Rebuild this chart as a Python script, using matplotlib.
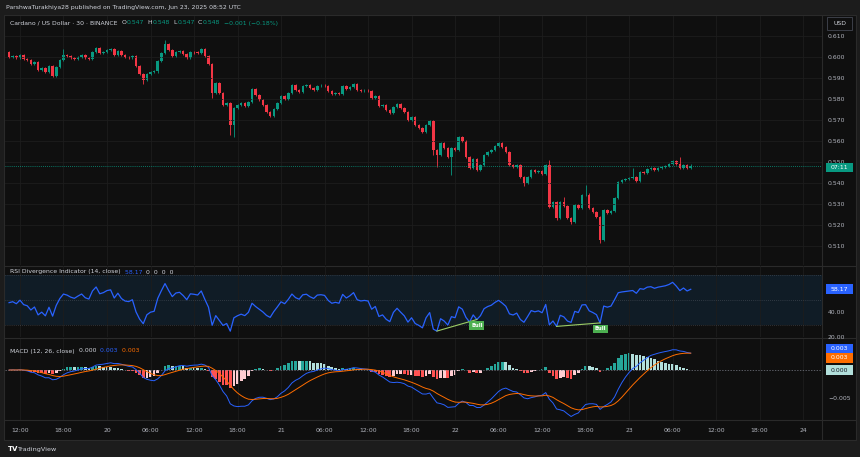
import numpy as np
import pandas as pd
import matplotlib
matplotlib.use("Agg")
import matplotlib.pyplot as plt
from matplotlib.patches import Rectangle

plt.rcParams['font.family'] = ['DejaVu Sans']

W, H = 860, 457

# ADA/USD 30 min closes, 19 Jun 10:30 -> 23 Jun 08:30
closes = [
    0.6000, 0.6004, 0.5995, 0.6009, 0.5990, 0.5985, 0.5966, 0.5976, 0.5938, 0.5947, 0.5928, 0.5957,
    0.5909, 0.5952, 0.5985, 0.6009, 0.6004, 0.5995, 0.5990, 0.6000, 0.6009, 0.5995, 0.5990, 0.6024,
    0.6043, 0.6019, 0.6024, 0.6033, 0.6036, 0.6009, 0.6028, 0.6009, 0.6000, 0.5998, 0.6004, 0.5957,
    0.5919, 0.5890, 0.5919, 0.5928, 0.5931, 0.5981, 0.6019, 0.6062, 0.6033, 0.6004, 0.6024, 0.6028,
    0.6014, 0.5995, 0.6024, 0.6022, 0.6019, 0.6038, 0.6004, 0.5966, 0.5828, 0.5876, 0.5828, 0.5771,
    0.5781, 0.5676, 0.5757, 0.5771, 0.5781, 0.5766, 0.5786, 0.5847, 0.5819, 0.5795, 0.5771, 0.5738,
    0.5719, 0.5752, 0.5781, 0.5814, 0.5800, 0.5828, 0.5866, 0.5843, 0.5833, 0.5862, 0.5866, 0.5852,
    0.5843, 0.5862, 0.5864, 0.5861, 0.5838, 0.5824, 0.5828, 0.5824, 0.5862, 0.5847, 0.5857, 0.5871,
    0.5843, 0.5838, 0.5840, 0.5838, 0.5805, 0.5814, 0.5766, 0.5771, 0.5747, 0.5733, 0.5762, 0.5776,
    0.5757, 0.5738, 0.5700, 0.5714, 0.5676, 0.5662, 0.5643, 0.5676, 0.5695, 0.5557, 0.5533, 0.5590,
    0.5567, 0.5524, 0.5567, 0.5557, 0.5619, 0.5600, 0.5524, 0.5471, 0.5514, 0.5462, 0.5486, 0.5533,
    0.5548, 0.5557, 0.5576, 0.5590, 0.5571, 0.5548, 0.5486, 0.5476, 0.5486, 0.5429, 0.5400, 0.5429,
    0.5462, 0.5452, 0.5457, 0.5443, 0.5486, 0.5286, 0.5310, 0.5233, 0.5310, 0.5290, 0.5233, 0.5214,
    0.5295, 0.5281, 0.5343, 0.5345, 0.5281, 0.5262, 0.5238, 0.5129, 0.5271, 0.5257, 0.5267, 0.5329,
    0.5405, 0.5414, 0.5419, 0.5424, 0.5429, 0.5409, 0.5452, 0.5448, 0.5467, 0.5471, 0.5462, 0.5471,
    0.5476, 0.5481, 0.5490, 0.5505, 0.5490, 0.5471, 0.5486, 0.5474, 0.5483,
]
first_open = 0.6024
wick = 0.0006
big_highs = {15: 0.6038, 43: 0.6081, 149: 0.5509, 153: 0.5333, 159: 0.5390, 172: 0.5471, 185: 0.5524}
big_lows = {37: 0.5871, 56: 0.5805, 61: 0.5628, 62: 0.5619, 117: 0.5533, 118: 0.5476, 122: 0.5438,
            142: 0.5386, 151: 0.5224, 155: 0.5205, 163: 0.5114}

time_labels = ["12:00", "18:00", "20", "06:00", "12:00", "18:00", "21", "06:00", "12:00", "18:00",
               "22", "06:00", "12:00", "18:00", "23", "06:00", "12:00", "18:00", "24"]
first_tick = 3          # candle index of 19 Jun 12:00
tick_step = 12          # 6 hours of 30 min candles
price_ticks = [0.51, 0.52, 0.53, 0.54, 0.55, 0.56, 0.57, 0.58, 0.59, 0.60, 0.61]
rsi_ticks = [20, 40]
macd_ticks = [-0.005]
bull_pairs = [(118, 129), (151, 163)]

UP, DOWN = '#089981', '#f23645'
TXT = '#b2b5be'
FS = 4.4

# ---- indicators
c = np.array(closes)
d = np.diff(c)
gain = np.clip(d, 0, None)
loss = np.clip(-d, 0, None)
ag, al = gain[:14].mean(), loss[:14].mean()
rsi = np.empty(len(c))
rsi[0] = 100 - 100 / (1 + ag / al)
for k in range(len(d)):
    ag = (ag * 13 + gain[k]) / 14
    al = (al * 13 + loss[k]) / 14
    rsi[k + 1] = 100 - 100 / (1 + ag / al)

s = pd.Series(closes)
macd = (s.ewm(span=12, adjust=False).mean() - s.ewm(span=26, adjust=False).mean()).values
sig = pd.Series(macd).ewm(span=9, adjust=False).mean().values
hist = macd - sig
hcol = []
for k, h in enumerate(hist):
    prev = hist[k - 1] if k > 0 else 0
    if h >= 0:
        hcol.append('#26a69a' if h > prev else '#b2dfdb')
    else:
        hcol.append('#ff5252' if h < prev else '#ffcdd2')

idx = np.arange(len(closes))
opens = np.array([first_open] + closes[:-1])
highs = np.maximum(opens, c) + wick
lows = np.minimum(opens, c) - wick
for k, v in big_highs.items():
    highs[k] = v
for k, v in big_lows.items():
    lows[k] = v
ccol = [UP if c[k] >= opens[k] else DOWN for k in idx]


def fmt3(v):
    v = round(float(v), 3) + 0.0
    return f"{v:.3f}".replace('-', '\u2212')


# ---- figure
fig = plt.figure(figsize=(W / 100, H / 100), dpi=100, facecolor='#1c1c1c')


def px(x0, y0, x1, y1):
    return [x0 / W, 1 - y1 / H, (x1 - x0) / W, (y1 - y0) / H]


bg = fig.add_axes([0, 0, 1, 1], zorder=-10)
bg.set_xlim(0, W)
bg.set_ylim(H, 0)
bg.axis('off')
bg.add_patch(Rectangle((4, 15), 852, 425, fc='#0f0f0f', ec='#2a2a2a', lw=0.8))
for yy in (265.5, 338, 420):
    bg.plot([4, 856], [yy, yy], color='#2a2a2a', lw=0.8)
bg.plot([822, 822], [15, 440], color='#2a2a2a', lw=0.8)

xlim = (-1.13, 224.2)
ticks = [first_tick + tick_step * k for k in range(len(time_labels))]

ax_p = fig.add_axes(px(5, 16, 822, 265))
ax_r = fig.add_axes(px(5, 266, 822, 337))
ax_m = fig.add_axes(px(5, 339, 822, 420))
for ax in (ax_p, ax_r, ax_m):
    ax.set_facecolor('none')
    ax.set_xlim(*xlim)
    for sp in ax.spines.values():
        sp.set_visible(False)
    ax.set_xticks(ticks)
    ax.grid(axis='x', color='#1d1d1d', lw=0.6)
    ax.yaxis.tick_right()
    ax.tick_params(length=0, labelsize=FS, labelcolor=TXT, pad=4.3)
ax_p.set_xticklabels([])
ax_r.set_xticklabels([])
ax_m.set_xticklabels(time_labels)
ax_m.tick_params(axis='x', pad=5.8)

# price panel
ax_p.set_ylim(0.5010, 0.6195)
ax_p.set_yticks(price_ticks)
ax_p.set_yticklabels([f"{v:.3f}" for v in price_ticks])
ax_p.grid(axis='y', color='#1d1d1d', lw=0.6)
ax_p.vlines(idx, lows, highs, color=ccol, lw=0.6)
body = np.maximum(np.abs(c - opens), 0.00015)
ax_p.bar(idx, body, bottom=np.minimum(c, opens), width=0.7, color=ccol, lw=0)
ax_p.axhline(closes[-1], color=UP, ls=(0, (1, 1.5)), lw=0.6)

# rsi panel
ax_r.set_ylim(20, 76.8)
ax_r.set_yticks(rsi_ticks)
ax_r.set_yticklabels([f"{v:.2f}" for v in rsi_ticks])
ax_r.axhspan(30, 70, color='#2196f3', alpha=0.1, lw=0)
for lvl in (70, 50, 30):
    ax_r.axhline(lvl, color='#787b86', ls=(0, (1, 2)), lw=0.5, alpha=0.6)
ax_r.plot(idx, rsi, color='#2962ff', lw=0.9)
for a, b in bull_pairs:
    ax_r.plot([a, b], [rsi[a], rsi[b]], color='#9ccc65', lw=0.8)
    ax_r.annotate('Bull', (b, rsi[b]), xytext=(0, -2.5), textcoords='offset points',
                  ha='center', va='top', fontsize=3.8, color='white', fontweight='bold',
                  bbox=dict(boxstyle='square,pad=0.35', fc='#4caf50', ec='none'))

# macd panel
ax_m.set_ylim(-0.00893, 0.00554)
ax_m.set_yticks(macd_ticks)
ax_m.set_yticklabels(["\u22120.005"])
ax_m.axhline(0, color='#787b86', ls=(0, (2, 2)), lw=0.5)
ax_m.bar(idx, hist, width=0.75, color=hcol, lw=0)
ax_m.plot(idx, macd, color='#2962ff', lw=0.7)
ax_m.plot(idx, sig, color='#ff6d00', lw=0.7)

# ---- overlay: texts and value labels
ov = fig.add_axes([0, 0, 1, 1], zorder=20)
ov.set_xlim(0, W)
ov.set_ylim(H, 0)
ov.axis('off')
ov.set_facecolor('none')
rend = fig.canvas.get_renderer()


def seq(x, y, parts, size=FS):
    for txt, col in parts:
        t = ov.text(x, y, txt, color=col, fontsize=size, ha='left', va='center')
        x += t.get_window_extent(rend).width


def ypix(ax, v):
    return H - ax.transData.transform((0, v))[1]


def value_label(y, text, fc, tc, dy=0.0):
    ov.add_patch(Rectangle((825.5, y - 4.8 + dy), 27, 9.6, fc=fc, ec='none'))
    ov.text(839, y + dy, text, color=tc, fontsize=FS, ha='center', va='center')


GRY = '#d1d4dc'
ov.text(6, 7.5, "ParshwaTurakhiya28 published on TradingView.com, Jun 23, 2025 08:52 UTC",
        color=GRY, fontsize=FS, ha='left', va='center')
seq(10, 23, [("Cardano / US Dollar \u00b7 30 \u00b7 BINANCE", GRY), ("  O", GRY),
             ("0.547", UP), ("  H", GRY), ("0.548", UP), ("  L", GRY), ("0.547", UP),
             ("  C", GRY), ("0.548", UP), ("  \u22120.001 (\u22120.18%)", UP)])
seq(10, 272, [("RSI Divergence Indicator (14, close)", GRY), ("  " + f"{rsi[-1]:.2f}", '#2962ff'),
              ("  0  0  0  0", GRY)])
seq(10, 351, [("MACD (12, 26, close)", GRY), ("  " + fmt3(hist[-1]), GRY),
              ("  " + fmt3(macd[-1]), '#2962ff'), ("  " + fmt3(sig[-1]), '#ff6d00')])

ov.add_patch(Rectangle((827, 17), 25, 13, fc='#0f0f0f', ec='#434651', lw=0.6))
ov.text(839.5, 23.5, "USD", color=GRY, fontsize=FS, ha='center', va='center')

# countdown box sits just under the 0.550 scale label, which it partly hides
value_label(ypix(ax_p, closes[-1]), "07:11", UP, 'white', dy=1.8)
value_label(ypix(ax_r, rsi[-1]), f"{rsi[-1]:.2f}", '#2962ff', 'white')
ym, ys = ypix(ax_m, macd[-1]), ypix(ax_m, sig[-1])
if abs(ym - ys) < 9.6:
    mid = (ym + ys) / 2
    ym, ys = mid - 4.8, mid + 4.8
value_label(ym, fmt3(macd[-1]), '#2962ff', 'white')
value_label(ys, fmt3(sig[-1]), '#ff6d00', 'white')
value_label(ypix(ax_m, hist[-1]), fmt3(abs(hist[-1])), '#b2dfdb', '#131722')

ov.text(8, 449, "TV", color='white', fontsize=5, fontweight='bold', ha='left', va='center')
ov.text(17, 449, "TradingView", color=GRY, fontsize=4.6, ha='left', va='center')

fig.savefig("out.png", dpi=100, facecolor=fig.get_facecolor())
